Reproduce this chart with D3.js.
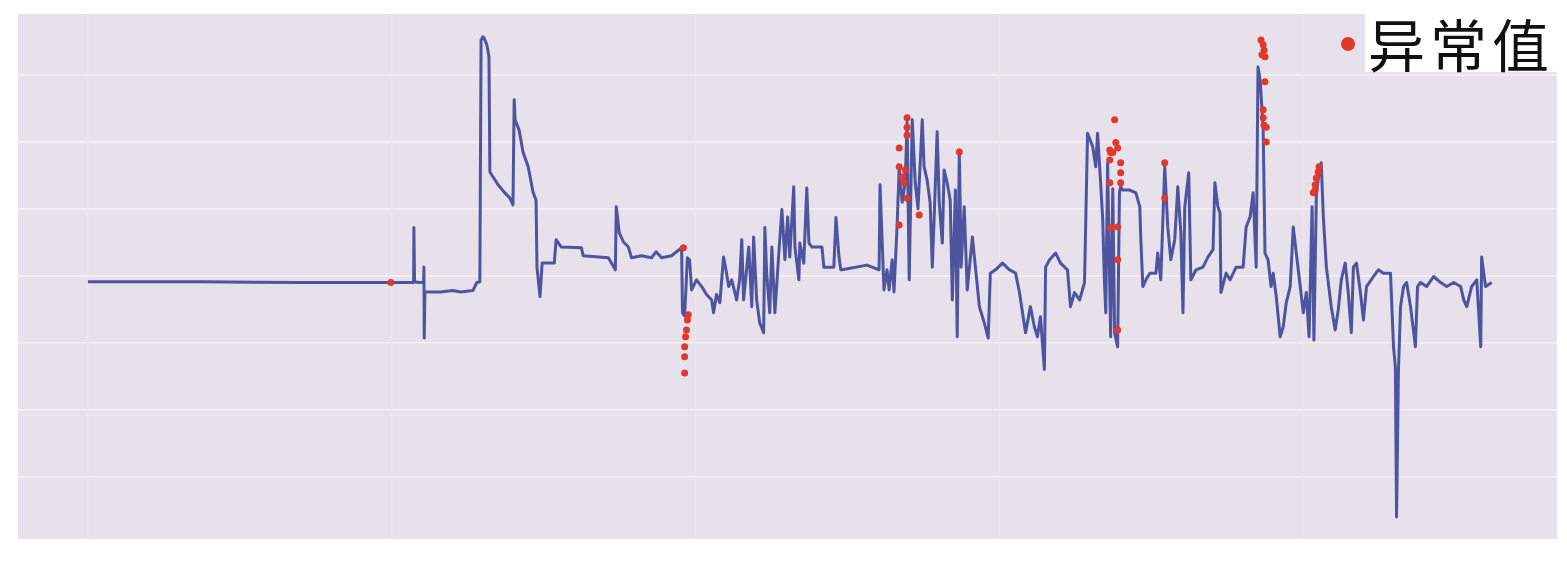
<!DOCTYPE html>
<html>
<head>
<meta charset="utf-8">
<script src="https://cdn.jsdelivr.net/npm/d3@7"></script>
<style>
  html, body { margin: 0; padding: 0; background: #fff; }
  svg { display: block; }
</style>
</head>
<body>
<svg id="chart"></svg>
<script>
// ── Data (index, standardised value) ──
const seriesIdx = [
  0, 370, 700, 1000, 1060, 1072, 1073, 1075, 1090, 1105, 1106, 1107, 1109, 1115,
  1160, 1200, 1228, 1267, 1280, 1290, 1294, 1300, 1304, 1313, 1320, 1323, 1333, 1350,
  1370, 1389, 1399, 1403, 1406, 1419, 1432, 1449, 1465, 1475, 1478, 1488, 1495, 1535,
  1541, 1558, 1624, 1630, 1713, 1736, 1739, 1749, 1762, 1779, 1789, 1822, 1855, 1870,
  1888, 1921, 1954, 1957, 1964, 1973, 1980, 1987, 2003, 2020, 2036, 2053, 2059, 2069,
  2080, 2092, 2100, 2109, 2119, 2135, 2145, 2152, 2158, 2175, 2185, 2191, 2201, 2211,
  2224, 2228, 2234, 2244, 2251, 2261, 2274, 2284, 2294, 2303, 2310, 2323, 2327, 2340,
  2343, 2356, 2366, 2373, 2383, 2416, 2422, 2455, 2462, 2472, 2478, 2482, 2564, 2604,
  2607, 2620, 2630, 2637, 2647, 2653, 2663, 2670, 2680, 2690, 2696, 2703, 2713, 2723,
  2732, 2746, 2752, 2762, 2772, 2779, 2785, 2795, 2802, 2812, 2818, 2828, 2838, 2845,
  2855, 2861, 2868, 2874, 2884, 2894, 2911, 2921, 2934, 2950, 2963, 2970, 2987, 3010,
  3033, 3053, 3066, 3076, 3086, 3102, 3115, 3125, 3135, 3148, 3152, 3165, 3185, 3201,
  3224, 3234, 3247, 3264, 3280, 3290, 3307, 3317, 3323, 3333, 3340, 3345, 3350, 3356,
  3366, 3373, 3379, 3389, 3395, 3399, 3406, 3429, 3449, 3462, 3465, 3472, 3482, 3495,
  3515, 3521, 3531, 3544, 3554, 3564, 3577, 3587, 3597, 3604, 3610, 3623, 3630, 3647,
  3670, 3686, 3703, 3709, 3719, 3726, 3729, 3746, 3759, 3779, 3802, 3812, 3825, 3835,
  3845, 3851, 3858, 3868, 3874, 3884, 3894, 3901, 3911, 3924, 3934, 3944, 3957, 3967,
  3977, 3990, 4000, 4010, 4019, 4029, 4035, 4043, 4049, 4059, 4066, 4076, 4092, 4105,
  4115, 4125, 4138, 4148, 4158, 4165, 4175, 4188, 4198, 4208, 4231, 4247, 4264, 4287,
  4297, 4303, 4307, 4313, 4320, 4330, 4340, 4353, 4369, 4376, 4386, 4406, 4429, 4452,
  4472, 4495, 4518, 4528, 4538, 4554, 4571, 4584, 4587, 4600, 4620
];
const seriesVal = [
  -0.09, -0.09, -0.10, -0.10, -0.10, -0.10, 0.72, -0.09, -0.10, -0.10, 0.13, -0.93, -0.24, -0.24,
  -0.24, -0.22, -0.24, -0.22, -0.10, -0.09, 3.52, 3.57, 3.55, 3.45, 3.27, 1.55, 1.48, 1.36,
  1.25, 1.16, 1.06, 2.63, 2.33, 2.18, 1.85, 1.63, 1.25, 1.13, 0.13, -0.31, 0.19, 0.19,
  0.54, 0.43, 0.42, 0.30, 0.27, 0.09, 1.03, 0.64, 0.51, 0.43, 0.27, 0.30, 0.27, 0.36,
  0.27, 0.30, 0.42, -0.55, -0.60, 0.27, 0.24, -0.21, -0.06, -0.16, -0.28, -0.36, -0.55, -0.28,
  -0.40, 0.28, 0.09, -0.16, -0.06, -0.36, -0.06, 0.54, -0.36, 0.43, -0.46, 0.58, -0.36, -0.70,
  -0.85, 0.72, 0.04, -0.55, 0.43, -0.55, 0.34, 0.99, 0.24, 0.88, 0.28, 1.33, 0.43, -0.06,
  0.49, 0.19, 1.31, 0.49, 0.43, 0.43, 0.13, 0.13, 0.87, 0.28, 0.09, 0.09, 0.16, 0.09,
  1.36, -0.21, 0.09, -0.21, 0.24, -0.24, 0.73, 1.60, 1.10, 1.40, 2.30, -0.06, 2.33, 1.39,
  1.00, 2.33, 1.63, 1.43, 1.09, 0.13, 0.84, 2.15, 1.09, 0.49, 1.58, 1.39, 1.13, -0.36,
  1.28, -0.91, 1.88, 0.13, 1.03, -0.21, 0.58, 0.13, -0.46, -0.70, -0.93, 0.04, 0.09, 0.19,
  0.09, 0.04, -0.25, -0.55, -0.85, -0.46, -0.76, -0.91, -0.61, -1.40, 0.13, 0.24, 0.34, 0.19,
  0.09, -0.46, -0.25, -0.36, -0.10, 2.13, 1.93, 1.63, 2.13, 1.39, 0.84, -0.01, -0.55, 1.69,
  -0.91, 1.30, -0.85, -1.06, 1.25, 1.33, 1.28, 1.28, 1.24, 1.03, 0.58, -0.16, -0.06, 0.04,
  0.04, 0.34, -0.06, 1.63, 0.73, 0.24, 0.54, 1.33, 0.64, -0.55, 1.03, 1.54, -0.06, 0.09,
  0.13, 0.28, 0.39, 1.39, 1.03, 0.94, -0.25, 0.04, -0.06, 0.13, 0.13, 0.73, 0.88, 1.24,
  0.13, 3.12, 2.93, 2.18, 0.34, 0.24, -0.16, 0.04, -0.31, -0.91, -0.76, -0.40, -0.16, 0.73,
  0.34, -0.16, -0.55, -0.25, -0.91, 1.03, -0.96, 1.20, 1.45, 1.69, 0.88, 0.13, -0.46, -0.81,
  -0.51, -0.06, 0.19, -0.25, -0.85, 0.13, 0.19, -0.25, -0.66, -0.16, -0.01, 0.09, 0.04, 0.04,
  -1.06, -1.36, -3.60, -1.45, -0.46, -0.16, -0.10, -0.46, -1.06, -0.16, -0.10, -0.16, -0.01, -0.10,
  -0.16, -0.10, -0.16, -0.36, -0.46, -0.16, -0.06, -1.06, 0.28, -0.16, -0.10
];

// anomaly points
const anomalyIdx = [
  997, 1960, 1976, 1973, 1970, 1967, 1964, 1964, 1964,
  2670, 2670, 2680, 2686, 2690, 2696, 2696, 2696, 2696, 2670, 2736, 2868,
  3379, 3363, 3363, 3383, 3373, 3389, 3366, 3399, 3399, 3399, 3363, 3389, 3366, 3389, 3389,
  3544, 3544,
  3861, 3868, 3871, 3864, 3874, 3874, 3868, 3868, 3871, 3878, 3878,
  4033, 4039, 4043, 4049, 4052, 4039
];
const anomalyVal = [
  -0.10, 0.42, -0.58, -0.66, -0.81, -0.91, -1.06, -1.21, -1.45,
  1.91, 1.63, 1.48, 1.39, 1.58, 2.36, 2.22, 2.10, 1.16, 0.76, 0.91, 1.85,
  2.33, 1.88, 1.73, 1.99, 1.84, 1.91, 1.84, 1.69, 1.54, 1.39, 1.39, 0.73, 0.72, 0.24, -0.81,
  1.69, 1.16,
  3.52, 3.45, 3.37, 3.30, 3.27, 2.90, 2.48, 2.36, 2.25, 2.22, 2.00,
  1.24, 1.36, 1.46, 1.55, 1.63, 1.28
];

const xTicks = [0, 1000, 2000, 3000, 4000];
const yTicks = [-3, -2, -1, 0, 1, 2, 3];
const legendLabel = "异常值";

// ── Layout ──
const width = 1567, height = 573;
const plot = { left: 18, right: 1557, top: 14, bottom: 539 };

const svg = d3.select("#chart")
  .attr("width", width)
  .attr("height", height);

const x = d3.scaleLinear().domain([-230, 4835]).range([plot.left, plot.right]);
const y = d3.scaleLinear().domain([-3.93, 3.91]).range([plot.bottom, plot.top]);

// ── Background + grid ──
svg.append("rect")
  .attr("x", plot.left).attr("y", plot.top)
  .attr("width", plot.right - plot.left)
  .attr("height", plot.bottom - plot.top)
  .attr("fill", "#e6e1ea");

const grid = svg.append("g").attr("class", "grid");
grid.selectAll("line.h")
  .data(yTicks)
  .join("line")
  .attr("class", "h")
  .attr("x1", plot.left).attr("x2", plot.right)
  .attr("y1", d => y(d)).attr("y2", d => y(d))
  .attr("stroke", "#f3eff5")
  .attr("stroke-width", 1.6);

grid.selectAll("line.v")
  .data(xTicks)
  .join("line")
  .attr("class", "v")
  .attr("y1", plot.top).attr("y2", plot.bottom)
  .attr("x1", d => x(d)).attr("x2", d => x(d))
  .attr("stroke", "#ebe7ee")
  .attr("stroke-width", 1.4);

// ── Series line ──
const series = seriesIdx.map((d, i) => ({ i: d, v: seriesVal[i] }));
const line = d3.line().x(d => x(d.i)).y(d => y(d.v));

svg.append("path")
  .datum(series)
  .attr("d", line)
  .attr("fill", "none")
  .attr("stroke", "#3a4093")
  .attr("stroke-opacity", 0.88)
  .attr("stroke-width", 3)
  .attr("stroke-linejoin", "round");

// ── Anomalies ──
const anomalies = anomalyIdx.map((d, i) => ({ i: d, v: anomalyVal[i] }));
svg.append("g")
  .selectAll("circle")
  .data(anomalies)
  .join("circle")
  .attr("cx", d => x(d.i))
  .attr("cy", d => y(d.v))
  .attr("r", 3.5)
  .attr("fill", "#e2382c");

// ── Legend ──
const legend = svg.append("g").attr("class", "legend");
legend.append("rect")
  .attr("x", 1365).attr("y", 0)
  .attr("width", width - 1365).attr("height", 72)
  .attr("fill", "#fff");
legend.append("circle")
  .attr("cx", 1348).attr("cy", 44)
  .attr("r", 7)
  .attr("fill", "#e2382c");
legend.append("text")
  .attr("x", 1368).attr("y", 67)
  .attr("font-family", "'Noto Sans CJK SC', sans-serif")
  .attr("font-size", 57)
  .attr("letter-spacing", 5)
  .attr("fill", "#111")
  .text(legendLabel);
</script>
</body>
</html>
